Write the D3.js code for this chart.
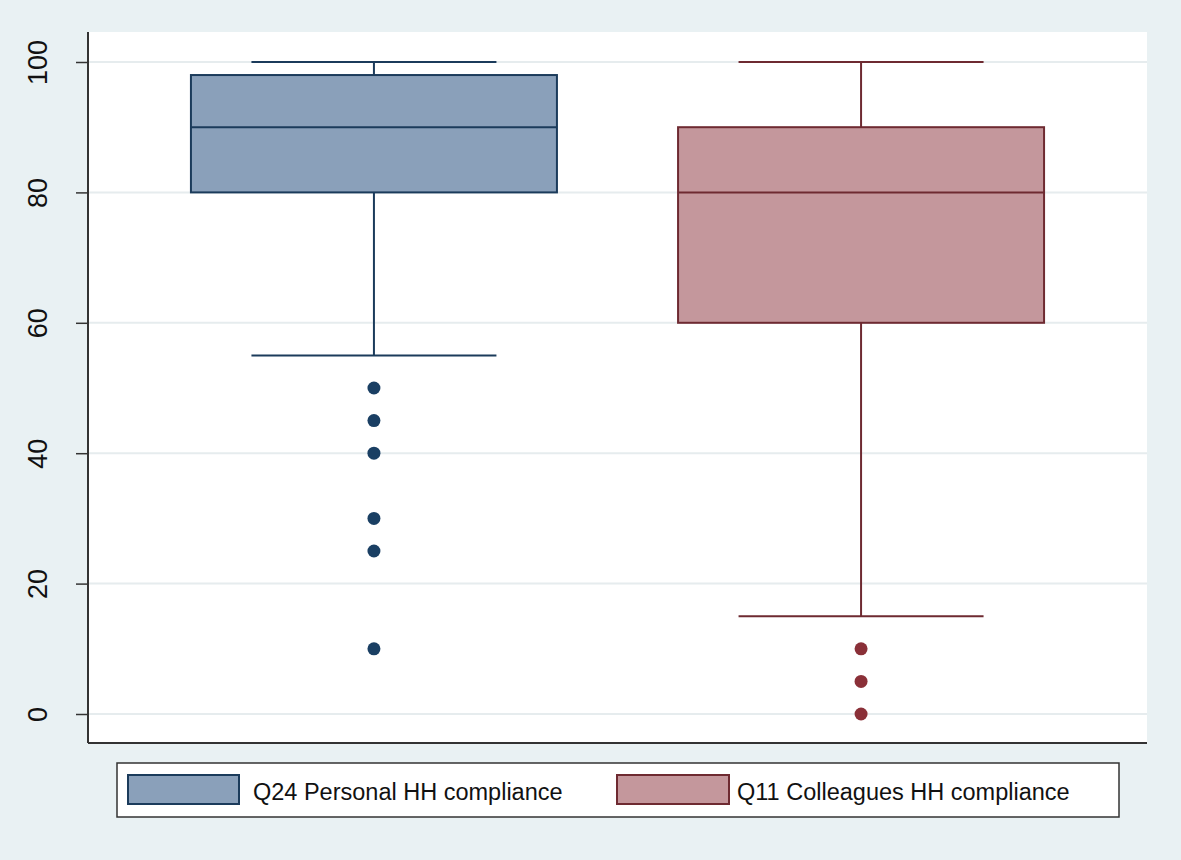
<!DOCTYPE html>
<html>
<head>
<meta charset="utf-8">
<script src="https://cdn.jsdelivr.net/npm/d3@7"></script>
<style>
  body { margin: 0; background: #e9f1f3; }
  svg { display: block; font-family: "Liberation Sans", Arial, sans-serif; }
</style>
</head>
<body>
<svg id="svg"></svg>
<script>
const width = 1181;
const height = 860;

// data
const groups = ["Q24 Personal HH compliance", "Q11 Colleagues HH compliance"];
const lowerWhisker = [55, 15];
const q1 = [80, 60];
const median = [90, 80];
const q3 = [98, 90];
const upperWhisker = [100, 100];
const outliers = [[50, 45, 40, 30, 25, 10], [10, 5, 0]];
const yTicks = [0, 20, 40, 60, 80, 100];

const fills = ["#8aa0ba", "#c4979c"];
const strokes = ["#1b3b5b", "#6e2a31"];
const dotColors = ["#1a3f63", "#8a3038"];

const plot = { left: 88, right: 1147, top: 32, bottom: 743 };

let svg = d3.select("#svg")
    .attr("width", width)
    .attr("height", height);

svg.append("rect")
    .attr("width", width)
    .attr("height", height)
    .attr("fill", "#e9f1f3");

// white plot region
svg.append("rect")
    .attr("x", plot.left)
    .attr("y", plot.top)
    .attr("width", plot.right - plot.left)
    .attr("height", plot.bottom - plot.top)
    .attr("fill", "white");

let xScale = d3.scalePoint()
    .domain(groups)
    .range([plot.left, plot.right])
    .padding(0.587);

let yScale = d3.scaleLinear()
    .domain([0, 100])
    .range([714, 62]);

// gridlines
svg.append("g")
    .selectAll("line")
    .data(yTicks)
    .enter()
    .append("line")
        .attr("x1", plot.left)
        .attr("x2", plot.right)
        .attr("y1", d => yScale(d))
        .attr("y2", d => yScale(d))
        .attr("stroke", "#e6ecee")
        .attr("stroke-width", 2);

const boxW = 366;
const capW = 245;

let boxes = svg.append("g")
    .selectAll("g")
    .data(groups)
    .enter()
    .append("g");

// whiskers
boxes.append("line")
    .attr("x1", d => xScale(d))
    .attr("x2", d => xScale(d))
    .attr("y1", (d, i) => yScale(upperWhisker[i]))
    .attr("y2", (d, i) => yScale(lowerWhisker[i]))
    .attr("stroke", (d, i) => strokes[i])
    .attr("stroke-width", 2);

boxes.each(function (d, i) {
    let g = d3.select(this);
    [upperWhisker[i], lowerWhisker[i]].forEach(v => {
        g.append("line")
            .attr("x1", xScale(d) - capW / 2)
            .attr("x2", xScale(d) + capW / 2)
            .attr("y1", yScale(v))
            .attr("y2", yScale(v))
            .attr("stroke", strokes[i])
            .attr("stroke-width", 2);
    });
});

boxes.append("rect")
    .attr("x", d => xScale(d) - boxW / 2)
    .attr("y", (d, i) => yScale(q3[i]))
    .attr("width", boxW)
    .attr("height", (d, i) => yScale(q1[i]) - yScale(q3[i]))
    .attr("fill", (d, i) => fills[i])
    .attr("stroke", (d, i) => strokes[i])
    .attr("stroke-width", 2);

boxes.append("line")
    .attr("x1", d => xScale(d) - boxW / 2)
    .attr("x2", d => xScale(d) + boxW / 2)
    .attr("y1", (d, i) => yScale(median[i]))
    .attr("y2", (d, i) => yScale(median[i]))
    .attr("stroke", (d, i) => strokes[i])
    .attr("stroke-width", 2);

boxes.each(function (d, i) {
    d3.select(this).selectAll("circle")
        .data(outliers[i])
        .enter()
        .append("circle")
            .attr("cx", xScale(d))
            .attr("cy", v => yScale(v))
            .attr("r", 6.5)
            .attr("fill", dotColors[i]);
});

// y axis
let yAxis = svg.append("g")
    .attr("transform", `translate(${plot.left}, 0)`)
    .call(d3.axisLeft(yScale).tickValues(yTicks).tickSize(12).tickPadding(0));

yAxis.select(".domain").remove();
yAxis.selectAll(".tick line").attr("stroke", "#333").attr("stroke-width", 1.5);
yAxis.selectAll(".tick text")
    .attr("transform", "rotate(-90)")
    .attr("x", 0)
    .attr("y", -50)
    .attr("dy", "0.35em")
    .style("text-anchor", "middle")
    .style("font-size", "27px")
    .style("fill", "#111");

svg.append("line")
    .attr("x1", plot.left).attr("x2", plot.left)
    .attr("y1", plot.top).attr("y2", plot.bottom)
    .attr("stroke", "#333").attr("stroke-width", 2);

svg.append("line")
    .attr("x1", plot.left).attr("x2", plot.right)
    .attr("y1", plot.bottom).attr("y2", plot.bottom)
    .attr("stroke", "#333").attr("stroke-width", 2);

// legend
svg.append("rect")
    .attr("x", 117).attr("y", 763)
    .attr("width", 1002).attr("height", 54)
    .attr("fill", "white")
    .attr("stroke", "#333")
    .attr("stroke-width", 1.5);

const legendX = [128, 617];
const swatchW = [111, 112];
const textOffset = [125, 120];

let legend = svg.append("g")
    .selectAll("g")
    .data(groups)
    .enter()
    .append("g")
        .attr("transform", (d, i) => `translate(${legendX[i]}, 775)`);

legend.append("rect")
    .attr("width", (d, i) => swatchW[i])
    .attr("height", 29)
    .attr("fill", (d, i) => fills[i])
    .attr("stroke", (d, i) => strokes[i])
    .attr("stroke-width", 2);

legend.append("text")
    .text(d => d)
    .attr("x", (d, i) => textOffset[i])
    .attr("y", 25)
    .style("font-size", "23.5px")
    .style("fill", "#111");
</script>
</body>
</html>
